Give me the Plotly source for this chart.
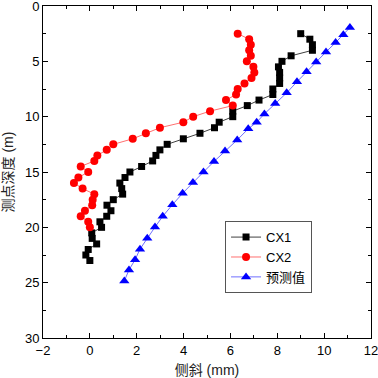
import plotly.graph_objects as go

# CX1 measured (depth every 0.5 m from 2.5 to 23)
cx1_depth = [2.5, 3.0, 3.5, 4.0, 4.5, 5.0, 5.5, 6.0, 6.5, 7.0, 7.5, 8.0, 8.5, 9.0,
             9.5, 10.0, 10.5, 11.0, 11.5, 12.0, 12.5, 13.0, 13.5, 14.0, 14.5, 15.0,
             15.5, 16.0, 16.5, 17.0, 17.5, 18.0, 18.5, 19.0, 19.5, 20.0, 20.5, 21.0,
             21.5, 22.0, 22.5, 23.0]
cx1_val = [9.0, 9.39, 9.5, 9.5, 8.59, 8.2, 8.05, 8.1, 8.1, 8.1, 7.81, 7.81, 7.22, 6.72,
           6.1, 6.1, 5.52, 5.32, 4.7, 3.99, 3.3, 2.99, 2.82, 2.68, 2.21, 1.71,
           1.5, 1.28, 1.36, 1.4, 1.0, 0.73, 0.9, 0.72, 0.43, 0.5, 0.08, 0.1,
           0.29, -0.07, -0.17, 0.0]

# CX2 measured (depth every 0.5 m from 2.5 to 20)
cx2_depth = [2.5, 3.0, 3.5, 4.0, 4.5, 5.0, 5.5, 6.0, 6.5, 7.0, 7.5, 8.0, 8.5, 9.0,
             9.5, 10.0, 10.5, 11.0, 11.5, 12.0, 12.5, 13.0, 13.5, 14.0, 14.5, 15.0,
             15.5, 16.0, 16.5, 17.0, 17.5, 18.0, 18.5, 19.0, 19.5, 20.0]
cx2_val = [6.31, 6.8, 6.87, 6.8, 6.87, 6.7, 6.98, 7.02, 6.9, 6.6, 6.31, 6.24, 5.81, 6.1,
           5.13, 4.41, 3.99, 2.99, 2.39, 1.83, 1.0, 0.72, 0.32, 0.19, -0.39, -0.07,
           -0.49, -0.68, -0.31, 0.19, 0.12, 0.1, -0.21, -0.39, -0.07, 0.0]

# Predicted values
pred_depth = [1.95, 2.6, 3.3, 4.15, 5.05, 5.95, 6.85, 7.85, 8.8, 9.75, 10.5, 11.1, 12.1,
              13.1, 14.05, 15.0, 15.96, 16.92, 17.97, 19.0, 19.98, 20.98, 21.97,
              22.93, 23.85, 24.85]
pred_val = [11.1, 10.82, 10.49, 10.08, 9.66, 9.25, 8.84, 8.4, 7.91, 7.45, 7.12, 6.76, 6.29,
            5.77, 5.3, 4.85, 4.4, 3.96, 3.52, 3.11, 2.78, 2.45, 2.14, 1.93, 1.67, 1.47]

names = ["CX1", "CX2", "预测值"]

FONT = "Arial, 'Liberation Sans', 'Noto Sans CJK SC', sans-serif"

fig = go.Figure()
fig.add_trace(go.Scatter(x=cx1_val, y=cx1_depth, name=names[0], mode="lines+markers",
                         line=dict(color="#404040", width=1),
                         marker=dict(symbol="square", size=7, color="black")))
fig.add_trace(go.Scatter(x=cx2_val, y=cx2_depth, name=names[1], mode="lines+markers",
                         line=dict(color="#ff7070", width=1),
                         marker=dict(symbol="circle", size=8, color="red")))
fig.add_trace(go.Scatter(x=pred_val, y=pred_depth, name=names[2], mode="lines+markers",
                         line=dict(color="#6f6fff", width=1),
                         marker=dict(symbol="triangle-up", size=9, color="blue")))

axis_common = dict(showline=True, linecolor="black", linewidth=1, mirror="allticks",
                   ticks="inside", ticklen=5, tickwidth=1, tickcolor="black",
                   showgrid=False, zeroline=False, automargin=False,
                   ticklabeloverflow="allow",
                   tickfont=dict(family=FONT, size=13, color="black"))

fig.update_xaxes(range=[-2, 12], dtick=2, tick0=-2,
                 minor=dict(dtick=1, ticks="inside", ticklen=3, tickcolor="black", showgrid=False),
                 title=dict(text="侧斜 (mm)", font=dict(family=FONT, size=14, color="#222222")),
                 **axis_common)
fig.update_yaxes(range=[30, 0], dtick=5, tick0=0,
                 minor=dict(dtick=2.5, ticks="inside", ticklen=3, tickcolor="black", showgrid=False),
                 title=dict(text="测点深度 (m)", font=dict(family=FONT, size=14, color="#222222")),
                 **axis_common)

fig.update_layout(
    width=378, height=378,
    margin=dict(l=43, r=7, t=6, b=40),
    plot_bgcolor="white", paper_bgcolor="white",
    font=dict(family=FONT, color="black"),
    legend=dict(x=0.555, y=0.352, xanchor="left", yanchor="top",
                bordercolor="#555555", borderwidth=1, bgcolor="white",
                font=dict(family=FONT, size=13, color="black"),
                tracegroupgap=0, itemwidth=30),
)

fig.write_html("out.html", config={"displayModeBar": False},
               post_script="document.body.style.margin='0';")
